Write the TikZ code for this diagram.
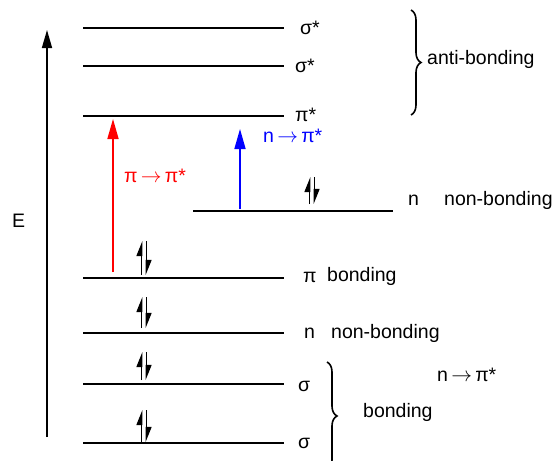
\documentclass[tikz,border=0pt]{standalone}
\usepackage{fontspec}
\setmainfont{Liberation Sans}
\usetikzlibrary{arrows.meta,decorations.pathreplacing}

\tikzset{
    level/.style={line width=1.6pt},
    lbl/.style={anchor=west, inner sep=0pt, font=\fontsize{19.5}{23}\selectfont},
    spin/.style={line width=1.6pt, -{Triangle[left, length=13pt, width=10pt]}},
    excite/.style={line width=1.6pt, -{Triangle[length=20pt, width=11pt]}},
    grp/.style={line width=1.6pt, decorate, decoration={brace, amplitude=10pt, aspect=0.5}}
}
\newcommand{\tto}{\,$\rightarrow$\,}

\begin{document}
\begin{tikzpicture}[x=1pt, y=-1pt]
    \useasboundingbox[fill=white] (0,0) rectangle (558,461);
    \clip (0,0) rectangle (558,461);

    % Energy axis
    \coordinate (ebot) at (47,437);
    \coordinate (etop) at (47,30);
    \draw[line width=1.6pt, -{Triangle[length=18pt, width=10pt]}] (ebot) -- (etop);
    \node[lbl] (elbl) at (12,221) {E};

    % Levels
    \foreach \name/\xa/\xb/\y/\xl/\yl/\txt in {
        sigsa/83/284/28/300/28/{σ*},
        sigsb/83/284/66/295/66/{σ*},
        pis/83/284/116/295/115/{π*},
        nhi/193/393/211/408/200/{n},
        pib/83/284/278/303/277/{π},
        nlo/83/284/333/304/333/{n},
        siga/83/284/384/298/386/{σ},
        sigb/83/284/443/298/443/{σ}} {
        \coordinate (\name-w) at (\xa,\y);
        \coordinate (\name-e) at (\xb,\y);
        \draw[level] (\name-w) -- (\name-e);
        \node[lbl] (\name-lbl) at (\xl,\yl) {\txt};
    }
    \node[lbl] (nhi-txt) at (444,200) {non-bonding};
    \node[lbl] (pib-txt) at (327,276) {bonding};
    \node[lbl] (nlo-txt) at (331,333) {non-bonding};

    % Electron pairs
    \foreach \x/\ya/\yb in {312/204/177, 144/275/241, 144/328/297, 144/380/352, 144/442/410} {
        \draw[spin] (\x-2.5,\ya) -- (\x-2.5,\yb);
        \draw[spin] (\x+2.5,\yb) -- (\x+2.5,\ya);
    }

    % Transitions
    \coordinate (pp-a) at (113,272);
    \coordinate (pp-b) at (113,119);
    \draw[excite, red] (pp-a) -- (pp-b);
    \node[lbl, text=red] (pp-lbl) at (124,176) {π\tto π*};
    \coordinate (np-a) at (240,209);
    \coordinate (np-b) at (240,129);
    \draw[excite, blue] (np-a) -- (np-b);
    \node[lbl, text=blue] (np-lbl) at (263,136) {n\tto π*};

    % Groups
    \coordinate (anti-t) at (411,10);
    \coordinate (anti-b) at (411,115);
    \draw[grp] (anti-t) -- (anti-b);
    \node[lbl] (anti-lbl) at (427,59) {anti-bonding};
    \coordinate (bond-t) at (327,362);
    \coordinate (bond-b) at (327,470);
    \draw[grp] (bond-t) -- (bond-b);
    \node[lbl] (bond-lbl) at (363,412) {bonding};
    \node[lbl] (extra-lbl) at (437,375) {n\tto π*};
\end{tikzpicture}
\end{document}
